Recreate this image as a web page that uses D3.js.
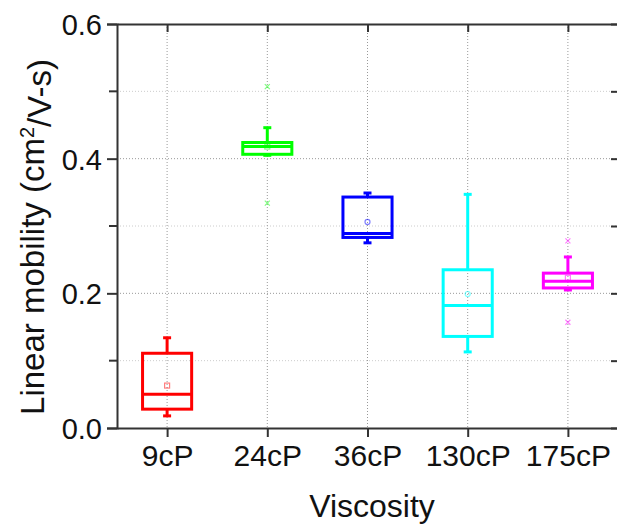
<!DOCTYPE html>
<html>
<head>
<meta charset="utf-8">
<title>Linear mobility vs viscosity</title>
<script src="https://cdn.jsdelivr.net/npm/d3@7"></script>
<style>
  body { margin: 0; background: #fff; font-family: "Liberation Sans", Arial, sans-serif; }
  .tick-label { font-size: 30px; fill: #111; }
  .ytick-label { font-size: 29px; fill: #111; }
  .title { font-size: 32px; fill: #111; }
  .ytitle { font-size: 33px; fill: #111; }
</style>
</head>
<body>
<div id="chart"></div>
<script>
// data
var categories = ["9cP", "24cP", "36cP", "130cP", "175cP"];
var whiskerLow  = [0.018, 0.405, 0.275, 0.113, 0.205];
var q1          = [0.028, 0.4065, 0.283, 0.136, 0.208];
var median      = [0.050, 0.418, 0.289, 0.182, 0.218];
var q3          = [0.111, 0.424, 0.343, 0.235, 0.230];
var whiskerHigh = [0.134, 0.446, 0.349, 0.347, 0.254];
var means       = [0.063, 0.418, 0.306, 0.199, 0.223];
var outliers    = [[], [0.507, 0.334], [], [], [0.278, 0.157]];
var yTicks = [0.0, 0.2, 0.4, 0.6];
var yMinor = [0.1, 0.3, 0.5];

var colors = ["#ff0000", "#00ff00", "#0000ff", "#00ffff", "#ff00ff"];
var meanShape = ["square", "square", "circle", "circle", "square"];

var W = 617, H = 530;
var mLeft = 117, mRight = 618, mTop = 24, mBottom = 428;

var svg = d3.select("#chart").append("svg")
    .attr("width", W).attr("height", H);

var x = d3.scaleLinear().domain([0.5, categories.length + 0.5]).range([mLeft, mRight]);
var y = d3.scaleLinear().domain([0, 0.6]).range([mBottom, mTop]);
var step = x(2) - x(1);
var half = step * 0.245;

// grid
var grid = svg.append("g");
grid.selectAll(".hmaj").data(yTicks.slice(1, 3)).enter().append("line")
    .attr("x1", mLeft).attr("x2", mRight)
    .attr("y1", d => y(d)).attr("y2", d => y(d))
    .attr("stroke", "#999").attr("stroke-width", 1).attr("stroke-dasharray", "1,2");
grid.selectAll(".hmin").data(yMinor).enter().append("line")
    .attr("x1", mLeft).attr("x2", mRight)
    .attr("y1", d => y(d)).attr("y2", d => y(d))
    .attr("stroke", "#ccc").attr("stroke-width", 1).attr("stroke-dasharray", "1,2");
grid.selectAll(".v").data(categories).enter().append("line")
    .attr("x1", (d, i) => x(i + 1)).attr("x2", (d, i) => x(i + 1))
    .attr("y1", mTop).attr("y2", mBottom)
    .attr("stroke", "#999").attr("stroke-width", 1).attr("stroke-dasharray", "1,2");

// boxes
var boxes = svg.selectAll(".box").data(categories).enter().append("g")
    .attr("class", "box");

boxes.each(function (d, i) {
  var g = d3.select(this);
  var cx = x(i + 1), c = colors[i];
  g.append("line").attr("x1", cx).attr("x2", cx)
      .attr("y1", y(q3[i])).attr("y2", y(whiskerHigh[i]))
      .attr("stroke", c).attr("stroke-width", 3);
  g.append("line").attr("x1", cx).attr("x2", cx)
      .attr("y1", y(q1[i])).attr("y2", y(whiskerLow[i]))
      .attr("stroke", c).attr("stroke-width", 3);
  [whiskerHigh[i], whiskerLow[i]].forEach(function (v) {
    g.append("line").attr("x1", cx - 4).attr("x2", cx + 4)
        .attr("y1", y(v)).attr("y2", y(v))
        .attr("stroke", c).attr("stroke-width", 3);
  });
  g.append("rect")
      .attr("x", cx - half).attr("width", half * 2)
      .attr("y", y(q3[i])).attr("height", y(q1[i]) - y(q3[i]))
      .attr("fill", "none").attr("stroke", c).attr("stroke-width", 3);
  g.append("line").attr("x1", cx - half).attr("x2", cx + half)
      .attr("y1", y(median[i])).attr("y2", y(median[i]))
      .attr("stroke", c).attr("stroke-width", 3);
  // mean
  if (meanShape[i] === "circle") {
    g.append("circle").attr("cx", cx).attr("cy", y(means[i])).attr("r", 2.5)
        .attr("fill", "none").attr("stroke", c).attr("stroke-opacity", 0.5).attr("stroke-width", 1.2);
  } else {
    g.append("rect").attr("x", cx - 2.5).attr("y", y(means[i]) - 2.5)
        .attr("width", 5).attr("height", 5)
        .attr("fill", "none").attr("stroke", c).attr("stroke-opacity", 0.5).attr("stroke-width", 1.2);
  }
  // outliers
  outliers[i].forEach(function (v) {
    var oy = y(v);
    g.append("path")
        .attr("d", "M" + (cx - 2.5) + "," + (oy - 2.5) + "L" + (cx + 2.5) + "," + (oy + 2.5) +
                   "M" + (cx - 2.5) + "," + (oy + 2.5) + "L" + (cx + 2.5) + "," + (oy - 2.5))
        .attr("stroke", c).attr("stroke-opacity", 0.5).attr("stroke-width", 1.2);
  });
});

// axes
var axisColor = "#333";
var yAxis = d3.axisLeft(y).tickValues(yTicks).tickFormat(d3.format(".1f")).tickSize(10).tickPadding(5);
var gy = svg.append("g").attr("transform", "translate(" + mLeft + ",0)").call(yAxis);
gy.selectAll(".tick text").attr("class", "ytick-label").attr("font-family", null).attr("font-size", null).attr("dy", "0.36em");
gy.selectAll(".tick line").attr("stroke", axisColor).attr("stroke-width", 2);
gy.select(".domain").attr("stroke", axisColor).attr("stroke-width", 2);
gy.selectAll(".minor").data(yMinor).enter().append("line").attr("class", "minor")
    .attr("x1", -8).attr("x2", 0).attr("y1", d => y(d)).attr("y2", d => y(d))
    .attr("stroke", axisColor).attr("stroke-width", 2);

var xAxis = d3.axisBottom(x).tickValues(d3.range(1, categories.length + 1))
    .tickFormat(d => categories[d - 1]).tickSize(9).tickPadding(8).tickSizeOuter(0);
var gx = svg.append("g").attr("transform", "translate(0," + mBottom + ")").call(xAxis);
gx.selectAll(".tick text").attr("class", "tick-label").attr("font-family", null).attr("font-size", null);
gx.selectAll(".tick line").attr("stroke", axisColor).attr("stroke-width", 2);
gx.select(".domain").attr("stroke", axisColor).attr("stroke-width", 2);

// top mirror axis (ticks inward)
var gt = svg.append("g").attr("transform", "translate(0," + mTop + ")")
    .call(d3.axisTop(x).tickValues(d3.range(1, categories.length + 1)).tickSize(-8).tickSizeOuter(0).tickFormat(""));
gt.selectAll(".tick line").attr("stroke", axisColor).attr("stroke-width", 2);
gt.select(".domain").attr("stroke", axisColor).attr("stroke-width", 2);

// right mirror axis (ticks inward)
var gr = svg.append("g").attr("transform", "translate(" + mRight + ",0)")
    .call(d3.axisRight(y).tickValues(yTicks.concat(yMinor)).tickSize(-7).tickSizeOuter(0).tickFormat(""));
gr.selectAll(".tick line").attr("stroke", axisColor).attr("stroke-width", 2);
gr.select(".domain").attr("stroke", axisColor).attr("stroke-width", 2);

// titles
svg.append("text").attr("class", "title")
    .attr("x", 372).attr("y", 517)
    .attr("text-anchor", "middle").text("Viscosity");

var yt = svg.append("text").attr("class", "ytitle")
    .attr("transform", "translate(44," + 237 + ") rotate(-90)")
    .attr("text-anchor", "middle");
yt.append("tspan").text("Linear mobility (cm");
yt.append("tspan").attr("dy", "-0.5em").attr("font-size", "20px").text("2");
yt.append("tspan").attr("dy", "0.5em").text("/V-s)");
</script>
</body>
</html>
